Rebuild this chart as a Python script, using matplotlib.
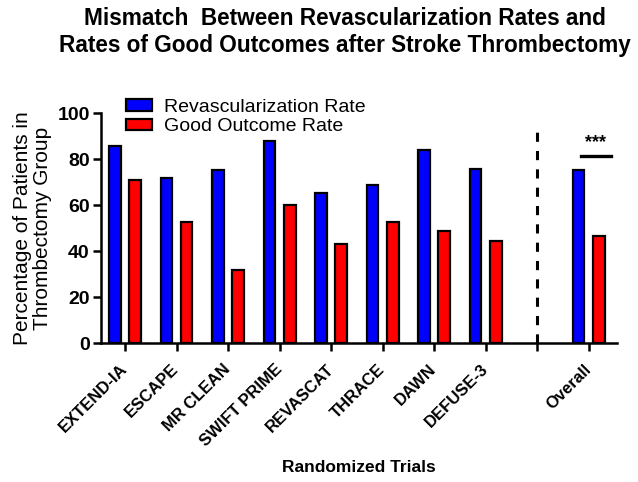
import numpy as np
import matplotlib
matplotlib.use("Agg")
import matplotlib.pyplot as plt

plt.rcParams['font.family'] = ['Liberation Sans', 'DejaVu Sans']

# Data
trials = ['EXTEND-IA', 'ESCAPE', 'MR CLEAN', 'SWIFT PRIME', 'REVASCAT',
          'THRACE', 'DAWN', 'DEFUSE-3', '', 'Overall']
revasc_rate = [85.6, 72.0, 75.2, 87.8, 65.2, 68.8, 84.2, 75.6, np.nan, 75.2]
good_outcome_rate = [70.9, 52.6, 32.0, 60.0, 43.3, 52.5, 48.8, 44.6, np.nan, 46.8]

x = np.arange(len(trials))
width = 0.23
offset = 0.195

fig = plt.figure(figsize=(6.38, 4.82), dpi=100)
ax = fig.add_axes([0.158, 0.288, 0.809, 0.477])

ax.bar(x - offset, revasc_rate, width, color='#0000ff', edgecolor='black',
       linewidth=1.6, label='Revascularization Rate')
ax.bar(x + offset, good_outcome_rate, width, color='#ff0000', edgecolor='black',
       linewidth=1.6, label='Good Outcome Rate')

# dashed separator before the overall group
ax.plot([8, 8], [0, 92.5], color='black', linestyle=(0, (3, 3)), linewidth=2.2)

# significance marker over Overall
ax.plot([8.85, 9.43], [81.3, 81.3], color='black', linewidth=2.4)
ax.text(9.14, 83.5, '***', ha='center', va='bottom', fontsize=13, fontweight='bold')

ax.set_xlim(-0.47, 9.55)
ax.set_ylim(0, 100)
ax.set_yticks([0, 20, 40, 60, 80, 100])
ax.set_xticks(x)
ax.set_xticklabels(trials, rotation=45, ha='right', va='center',
                   rotation_mode='anchor', fontsize=12, fontweight='bold')
ax.tick_params(axis='y', labelsize=14, width=1.8, length=6, pad=2)
ax.tick_params(axis='x', width=1.8, length=6, pad=11)
for lab in ax.get_yticklabels():
    lab.set_fontweight('bold')

for side in ['top', 'right']:
    ax.spines[side].set_visible(False)
for side in ['left', 'bottom']:
    ax.spines[side].set_linewidth(1.8)

ax.set_ylabel('Percentage of Patients in\nThrombectomy Group', fontsize=15,
              labelpad=4, linespacing=1.05)
ax.set_xlabel('Randomized Trials', fontsize=12.5, fontweight='bold', va='center')
ax.xaxis.set_label_coords(0.5, -0.54)

fig.suptitle('Mismatch  Between Revascularization Rates and\n'
             'Rates of Good Outcomes after Stroke Thrombectomy',
             x=0.54, y=0.985, fontsize=16.3, fontweight='bold', linespacing=1.2)

ax.legend(loc='upper left', bbox_to_anchor=(0.015, 1.14), frameon=False,
          fontsize=14, handlelength=1.35, handleheight=0.55, handletextpad=0.6,
          labelspacing=0.15)

fig.savefig('out.png', dpi=100)
